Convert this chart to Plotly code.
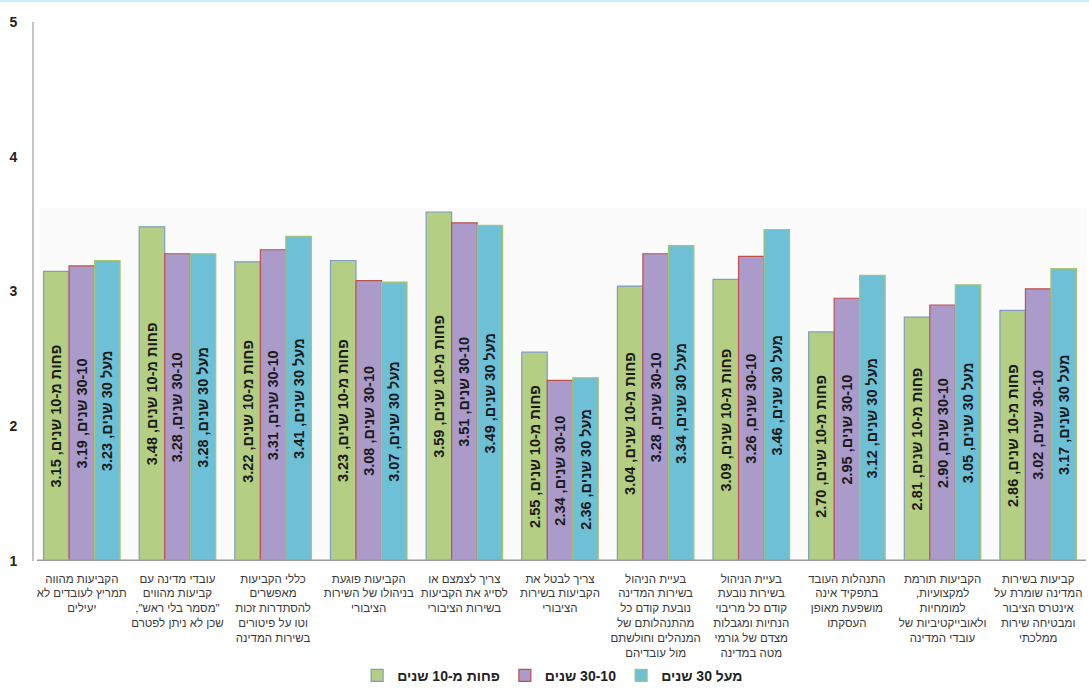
import plotly.graph_objects as go

# Survey statements (each line of a label is one list item)
categories = [
    ["הקביעות מהווה", "תמריץ לעובדים לא", "יעילים"],
    ["עובדי מדינה עם", "קביעות מהווים", "\"מסמר בלי ראש\",", "שכן לא ניתן לפטרם"],
    ["כללי הקביעות", "מאפשרים", "להסתדרות זכות", "וטו על פיטורים", "בשירות המדינה"],
    ["הקביעות פוגעת", "בניהולו של השירות", "הציבורי"],
    ["צריך לצמצם או", "לסייג את הקביעות", "בשירות הציבורי"],
    ["צריך לבטל את", "הקביעות בשירות", "הציבורי"],
    ["בעיית הניהול", "בשירות המדינה", "נובעת קודם כל", "מהתנהלותם של", "המנהלים וחולשתם", "מול עובדיהם"],
    ["בעיית הניהול", "בשירות נובעת", "קודם כל מריבוי", "הנחיות ומגבלות", "מצדם של גורמי", "מטה במדינה"],
    ["התנהלות העובד", "בתפקיד אינה", "מושפעת מאופן", "העסקתו"],
    ["הקביעות תורמת", "למקצועיות,", "למומחיות", "ולאובייקטיביות של", "עובדי המדינה"],
    ["קביעות בשירות", "המדינה שומרת על", "אינטרס הציבור", "ומבטיחה שירות", "ממלכתי"],
]

series_names = ["פחות מ-10 שנים", "30-10 שנים", "מעל 30 שנים"]
under_10 = [3.15, 3.48, 3.22, 3.23, 3.59, 2.55, 3.04, 3.09, 2.70, 2.81, 2.86]
from_10_to_30 = [3.19, 3.28, 3.31, 3.08, 3.51, 2.34, 3.28, 3.26, 2.95, 2.90, 3.02]
over_30 = [3.23, 3.28, 3.41, 3.07, 3.49, 2.36, 3.34, 3.46, 3.12, 3.05, 3.17]

y_ticks = [1, 2, 3, 4, 5]

fill_colors = ["#b4cf84", "#aa9bcb", "#6dc0d6"]
edge_colors = ["#7f9cc9", "#c0504d", "#a9c46a"]

RLE, PDF = "\u202b", "\u202c"


def rtl(s):
    return RLE + s + PDF


AXIS_MIN = 1
x_idx = list(range(len(categories)))
tick_text = ["<br>".join(rtl(line) for line in lines) for lines in categories]

fig = go.Figure()

for name, vals, fc, ec in zip(series_names, [under_10, from_10_to_30, over_30], fill_colors, edge_colors):
    fig.add_trace(go.Bar(
        name=rtl(name),
        x=x_idx,
        y=[v - AXIS_MIN for v in vals],
        base=AXIS_MIN,
        text=[rtl(f"{name}, {v:.2f}") for v in vals],
        textposition="inside",
        insidetextanchor="middle",
        textangle=-90,
        constraintext="none",
        textfont=dict(family="Arial, Liberation Sans, sans-serif", size=14.5, color="#1a1a1a", weight="bold"),
        marker=dict(color=fc, line=dict(color=ec, width=1.2)),
        hovertemplate="%{text}<extra></extra>",
    ))

# faint back wall behind the bars
fig.add_shape(type="rect", xref="x", yref="y", x0=-0.45, x1=10.5, y0=1, y1=3.62,
              fillcolor="#fbfbfb", line=dict(width=0), layer="below")
# floor edge
fig.add_shape(type="line", xref="x", yref="y", x0=-0.47, x1=10.5, y0=1, y1=1,
              line=dict(color="#9a9a9a", width=3), layer="above")
# thin cyan rule along the top edge
fig.add_shape(type="rect", xref="paper", yref="paper",
              x0=-34 / 1052, x1=1 + 3 / 1052, y0=1 + 20 / 539, y1=1 + 23 / 539,
              fillcolor="#c8f1f7", line=dict(width=0))

fig.update_layout(
    width=1089,
    height=690,
    margin=dict(l=34, r=3, t=22, b=129, autoexpand=False),
    paper_bgcolor="white",
    plot_bgcolor="white",
    barmode="group",
    bargap=0.2,
    bargroupgap=0,
    font=dict(family="Arial, Liberation Sans, sans-serif", color="#333333"),
    showlegend=True,
    legend=dict(
        orientation="h",
        x=0.493, xanchor="center",
        y=-0.213, yanchor="middle",
        font=dict(size=14, color="#222222", weight="bold"),
        itemwidth=30,
        traceorder="normal",
    ),
    xaxis=dict(
        range=[-0.5, 10.5],
        tickmode="array",
        tickvals=x_idx,
        ticktext=tick_text,
        tickangle=0,
        tickfont=dict(size=11.5, color="#3a3a3a"),
        showline=False,
        showgrid=False,
        ticks="",
        zeroline=False,
        ticklabelstandoff=9,
        automargin=False,
    ),
    yaxis=dict(
        range=[1, 5],
        tickmode="array",
        tickvals=y_ticks,
        ticktext=[str(t) for t in y_ticks],
        tickfont=dict(size=14, color="#222222", weight="bold"),
        showline=True,
        linecolor="#c4c4c4",
        linewidth=2,
        showgrid=False,
        zeroline=False,
        ticks="",
        ticklabelstandoff=12,
        automargin=False,
    ),
)

fig.write_html("out.html")
